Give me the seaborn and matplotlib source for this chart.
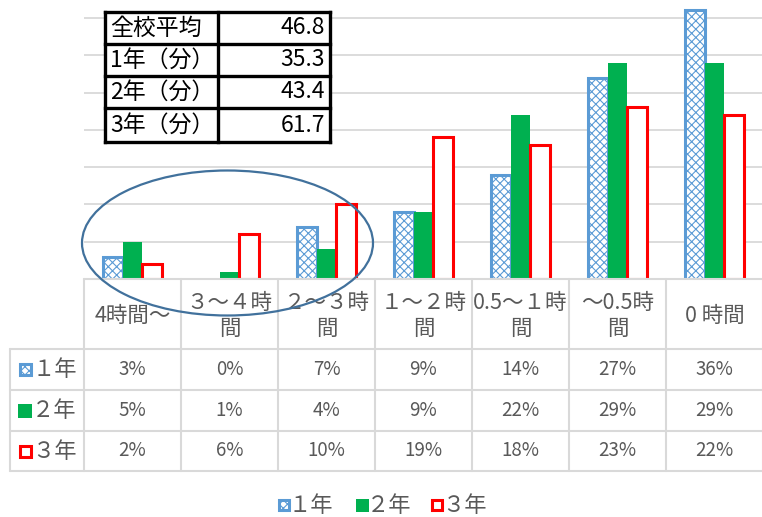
import numpy as np
import pandas as pd
import matplotlib
matplotlib.use('Agg')
import matplotlib.pyplot as plt
import seaborn as sns
from matplotlib.patches import Rectangle, Ellipse

# ---------------- data ----------------
categories = ['4時間～', '3～4時間', '2～3時間', '1～2時間', '0.5～1時間', '～0.5時間', '0時間']
header_labels = ['4時間～', '３～４時\n間', '２～３時\n間', '１～２時\n間', '0.5～１時\n間', '～0.5時\n間', '0 時間']
years = ['1年', '2年', '3年']
row_labels = ['１年', '２年', '３年']
grade1 = [3, 0, 7, 9, 14, 27, 36]
grade2 = [5, 1, 4, 9, 22, 29, 29]
grade3 = [2, 6, 10, 19, 18, 23, 22]
avg_labels = ['全校平均', '1年（分）', '2年（分）', '3年（分）']
avg_values = ['46.8', '35.3', '43.4', '61.7']

BLUE = '#5B9BD5'
GREEN = '#00B050'
RED = '#FF0000'
GRID = '#D9D9D9'
TXT = '#595959'

sns.set_style('white')
plt.rcParams['font.family'] = ['Noto Sans CJK JP', 'DejaVu Sans']
plt.rcParams['hatch.linewidth'] = 0.8

W, H = 762, 517
fig = plt.figure(figsize=(W / 100, H / 100), dpi=100)

# ---------------- bar chart ----------------
x0, col_w, base_y = 84, 97, 279
ax = fig.add_axes([x0 / W, 1 - base_y / H, (7 * col_w) / W, base_y / H])

rows = []
for yr, vals in zip(years, [grade1, grade2, grade3]):
    for c, v in zip(categories, vals):
        rows.append({'区分': c, '学年': yr, '割合': v})
df = pd.DataFrame(rows)

sns.barplot(data=df, x='区分', y='割合', hue='学年', order=categories,
            hue_order=years, palette=[BLUE, GREEN, RED], width=0.6,
            saturation=1, errorbar=None, legend=False, ax=ax)

styles = [dict(fc='white', ec=BLUE, lw=2.2, hatch='xxxx'),
          dict(fc=GREEN, ec=GREEN, lw=0, hatch=None),
          dict(fc='white', ec=RED, lw=2.2, hatch=None)]
for cont, st in zip(ax.containers, styles):
    for bar in cont:
        bar.set_facecolor(st['fc'])
        bar.set_edgecolor(st['ec'])
        bar.set_linewidth(st['lw'] if bar.get_height() > 0 else 0)
        if st['hatch']:
            bar.set_hatch(st['hatch'])

ax.set_xlim(-0.5, 6.5)
ax.set_ylim(0, base_y / 7.46)
ax.set_yticks(np.arange(0, 36, 5))
ax.yaxis.grid(True, color=GRID, lw=1.3)
ax.set_axisbelow(True)
ax.tick_params(left=False, bottom=False, labelleft=False, labelbottom=False)
ax.set_xlabel('')
ax.set_ylabel('')
for s in ax.spines.values():
    s.set_visible(False)

# ---------------- overlay (pixel coordinates) ----------------
ov = fig.add_axes([0, 0, 1, 1], zorder=5)
ov.set_xlim(0, W)
ov.set_ylim(H, 0)
ov.axis('off')
ov.patch.set_alpha(0)

# data table grid
row_y = [base_y, 349, 390, 431, 471]
right = x0 + 7 * col_w
ov.plot([x0, right], [row_y[0], row_y[0]], color=GRID, lw=1.5)
for yy in row_y[1:]:
    ov.plot([10, right], [yy, yy], color=GRID, lw=1.5)
ov.plot([10, 10], [row_y[1], row_y[-1]], color=GRID, lw=1.5)
for i in range(8):
    xx = x0 + i * col_w
    ov.plot([xx, xx], [row_y[0], row_y[-1]], color=GRID, lw=1.5)

# header labels
for i, lab in enumerate(header_labels):
    cx = x0 + (i + 0.5) * col_w
    ov.text(cx, 316, lab, ha='center', va='center', fontsize=15.5, color=TXT,
            linespacing=1.28)

# data values
for r, vals in enumerate([grade1, grade2, grade3]):
    cy = (row_y[r + 1] + row_y[r + 2]) / 2
    for i, v in enumerate(vals):
        cx = x0 + (i + 0.5) * col_w
        ov.text(cx, cy, f'{v}%', ha='center', va='center', fontsize=13.5, color=TXT)


def key(xc, yc, idx, size=14):
    st = styles[idx]
    if idx == 1:
        p = Rectangle((xc - size / 2, yc - size / 2), size, size, fc=GREEN, ec='none')
    else:
        p = Rectangle((xc - size / 2 + 1.5, yc - size / 2 + 1.5), size - 3, size - 3,
                      fc='white', ec=st['ec'], lw=2.2, hatch=st['hatch'])
    ov.add_patch(p)


# row labels with keys
for r, lab in enumerate(row_labels):
    cy = (row_y[r + 1] + row_y[r + 2]) / 2
    key(25, cy, r)
    ov.text(32, cy, lab, ha='left', va='center', fontsize=16, color=TXT)

# bottom legend
leg_x = [284, 362, 437]
for i, (lx, lab) in enumerate(zip(leg_x, row_labels)):
    key(lx, 505, i, size=13)
    ov.text(lx + 5, 505, lab, ha='left', va='center', fontsize=16, color=TXT)

# inset average table
tx0, tx1, tsplit = 105, 330, 218
ty = [12, 44, 76, 108, 142]
ov.add_patch(Rectangle((tx0, ty[0]), tx1 - tx0, ty[-1] - ty[0], fc='white', ec='none'))
for yy in ty:
    ov.plot([tx0, tx1], [yy, yy], color='black', lw=2.4, solid_capstyle='projecting')
for xx in [tx0, tsplit, tx1]:
    ov.plot([xx, xx], [ty[0], ty[-1]], color='black', lw=2.4, solid_capstyle='projecting')
for j, (lab, val) in enumerate(zip(avg_labels, avg_values)):
    cy = (ty[j] + ty[j + 1]) / 2
    ov.text(tx0 + 5, cy, lab, ha='left', va='center', fontsize=16.5, color='black')
    ov.text(tx1 - 5, cy, val, ha='right', va='center', fontsize=16.5, color='black')

# highlight ellipse
ov.add_patch(Ellipse((227.5, 243), 291, 145, fill=False, ec='#41719C', lw=1.6, zorder=10))

fig.savefig('out.png', dpi=100)
